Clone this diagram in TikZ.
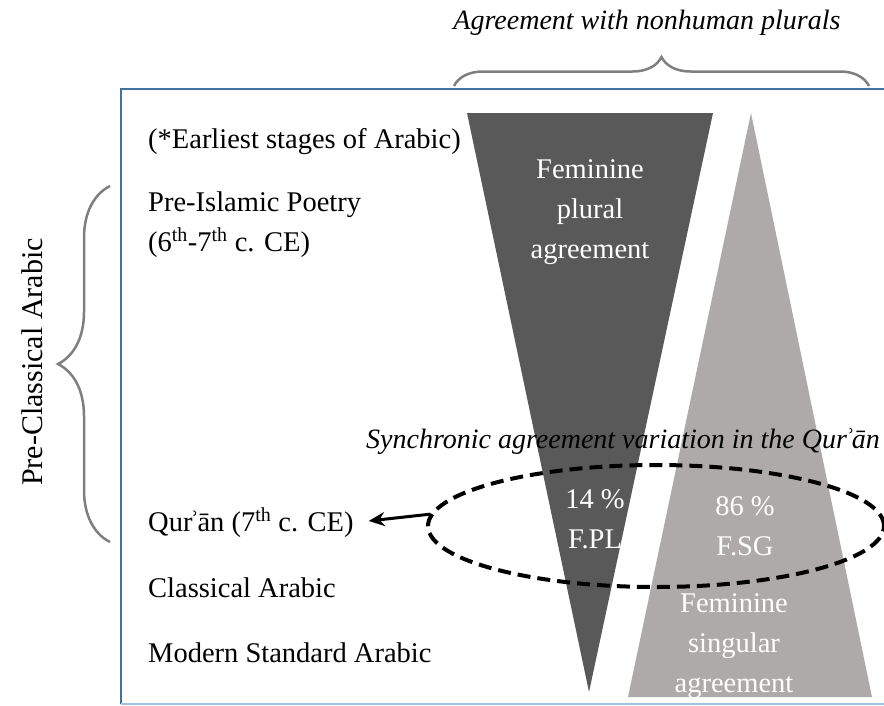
\documentclass[tikz,border=0pt]{standalone}
\usepackage{fontspec}
\setmainfont{Liberation Serif}
\usetikzlibrary{shapes.geometric,decorations.pathreplacing,arrows.meta}

\definecolor{frameblue}{HTML}{41719C}
\definecolor{lightblue}{HTML}{9DC3E6}
\definecolor{plgray}{HTML}{595959}
\definecolor{sggray}{HTML}{AEAAAA}
\definecolor{bracegray}{HTML}{7F7F7F}

\newcommand{\qurname}{Qur\kern-2.5ptʾ\kern-2ptān}

\tikzset{
  era/.style={anchor=base west, inner sep=0pt, font=\fontsize{28.5}{41}\selectfont},
  intri/.style={text=white, align=center, inner sep=0pt, font=\fontsize{28.5}{40}\selectfont},
  caption/.style={anchor=base, inner sep=0pt, font=\fontsize{28}{34}\selectfont\itshape},
  bracket/.style={draw=bracegray, line width=2.5pt, decorate, decoration={brace, amplitude=#1}},
}

\begin{document}
\begin{tikzpicture}[x=1pt,y=-1pt]
\useasboundingbox (0,0) rectangle (884,705);

% frame
\draw[frameblue, line width=2pt] (121,704) -- (121,89) -- (890,89);
\draw[lightblue, line width=2pt] (121,703.5) -- (890,703.5);

% agreement wedges
\fill[plgray] (467,113) -- (713,113) -- (589,692) -- cycle;
\fill[sggray] (751,113) -- (872,697) -- (628,697) -- cycle;

\node[intri] (plural) at (590,212) {Feminine\\plural\\agreement};
\node[intri] (plpct) at (595,519) {14 \%\\F.PL};
\node[intri] (sgpct) at (745,526) {86 \%\\F.SG};
\node[intri] (singular) at (734,646) {Feminine\\singular\\agreement};

% stages of Arabic
\node[era] (earliest) at (148,148) {(*Earliest stages of Arabic)};
\node[era] (poetry) at (148,211) {Pre-Islamic Poetry};
\node[era] (poetrydate) at (148,251) {(6\textsuperscript{th}-7\textsuperscript{th} c. CE)};
\node[era] (quran) at (148,531) {\qurname{} (7\textsuperscript{th} c. CE)};
\node[era] (classical) at (148,597) {Classical Arabic};
\node[era] (msa) at (148,662) {Modern Standard Arabic};

% braces
\draw[bracket=29pt] (454,86) -- (869,86);
\node[caption] (nonhuman) at (647,29) {Agreement with nonhuman plurals};
\draw[bracket=52pt] (110,542) -- (110,186);
\node[rotate=90, anchor=base, inner sep=0pt, font=\fontsize{30}{36}\selectfont] (preclass) at (42,362) {Pre-Classical Arabic};

% synchronic variation
\node[caption] (synchronic) at (623,448) {Synchronic agreement variation in the \qurname};
\node[draw, ellipse, line width=4pt, dash pattern=on 13pt off 7pt,
      minimum width=456pt, minimum height=122pt, inner sep=0pt] (sync) at (656,526) {};
\draw[line width=3pt, -{Stealth[length=16pt,width=14pt]}, shorten >=15pt] (sync.177) -- (quran.east);
\end{tikzpicture}
\end{document}
